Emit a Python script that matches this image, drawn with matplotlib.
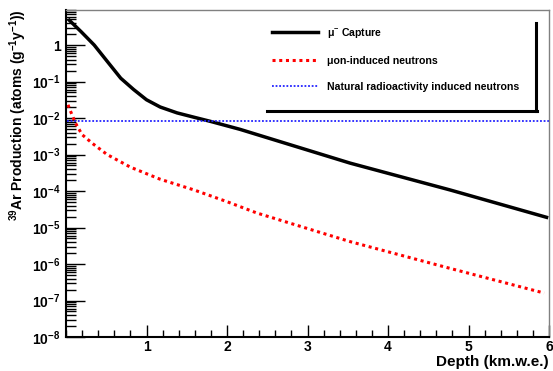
"""
39Ar production vs depth: mu- capture, muon-induced neutrons and the
natural radioactivity neutron level.
"""
import math
import matplotlib
matplotlib.use("Agg")
import matplotlib.pyplot as plt
from matplotlib.lines import Line2D
from matplotlib.ticker import FixedLocator, FuncFormatter, NullFormatter

plt.rcParams['font.family'] = ['Liberation Sans', 'DejaVu Sans']
plt.rcParams['font.weight'] = 'bold'
plt.rcParams['mathtext.fontset'] = 'custom'
plt.rcParams['mathtext.rm'] = 'Liberation Sans:bold'
plt.rcParams['mathtext.it'] = 'Liberation Sans:bold'
plt.rcParams['mathtext.bf'] = 'Liberation Sans:bold'

# values
capture_depth = [0.042, 0.19, 0.35, 0.52, 0.68, 0.84, 1.0, 1.17, 1.38, 1.59, 1.79, 2.16,
                 3.53, 4.77, 5.97]
capture_rate = [4.75, 2.29, 1.0, 0.339, 0.123, 0.0603, 0.0316, 0.0200, 0.0138, 0.0105, 0.00813,
                0.0049, 5.8e-4, 1.07e-4, 1.9e-5]

muon_n_depth = [0.025, 0.058, 0.12, 0.2, 0.33, 0.51, 0.80, 1.17, 1.59, 2.0, 2.37, 3.53, 4.77, 5.94]
muon_n_rate = [0.023, 0.015, 0.0071, 0.0035, 0.002, 1.0e-3, 4.5e-4, 2.1e-4, 1.07e-4, 5.1e-5, 2.5e-5,
               4.1e-6, 7.6e-7, 1.6e-7]

natural_depth = [0.01, 6.0]
natural_rate = [8.3e-3, 8.3e-3]

labels = ['μ$^{-}$ Capture', 'μon-induced neutrons', 'Natural radioactivity induced neutrons']

y_major = [10.0 ** e for e in range(-8, 1)]
y_minor = [m * 10.0 ** e for e in range(-9, 1) for m in range(2, 10)]
x_major = [1, 2, 3, 4, 5, 6]
x_minor = [i * 0.2 for i in range(31)]

W, H = 553, 371
fig = plt.figure(figsize=(W / 100, H / 100), dpi=100)
ax = fig.add_axes([66 / W, 1 - 337 / H, 483 / W, 327 / H])

ax.plot(capture_depth, capture_rate, color='black', lw=2.5, label=labels[0])
ax.plot(muon_n_depth, muon_n_rate, color='#ff0000', lw=2.2, linestyle=(0, (1, 1.2)), label=labels[1])
ax.plot(natural_depth, natural_rate, color='#2222ff', lw=1.3, linestyle=(0, (1, 1)), label=labels[2])

ax.set_yscale('log')
ax.set_xlim(0.0, 6.0)
ax.set_ylim(1e-8, 9.1)

ax.xaxis.set_major_locator(FixedLocator(x_major))
ax.xaxis.set_minor_locator(FixedLocator(x_minor))
ax.yaxis.set_major_locator(FixedLocator(y_major))
ax.yaxis.set_minor_locator(FixedLocator(y_minor))
ax.yaxis.set_minor_formatter(NullFormatter())


def ylab(v, pos):
    e = int(round(math.log10(v)))
    if e == 0:
        return '1'
    return r'$10^{%d}$' % e


ax.yaxis.set_major_formatter(FuncFormatter(ylab))
ax.xaxis.set_major_formatter(FuncFormatter(lambda v, p: '%d' % v))

ax.tick_params(axis='y', which='major', direction='in', length=14, width=1, labelsize=10, pad=4)
ax.tick_params(axis='y', which='minor', direction='in', length=7, width=1)
ax.tick_params(axis='x', which='major', direction='in', length=9, width=1, labelsize=10, pad=2)
ax.tick_params(axis='x', which='minor', direction='in', length=5, width=1)

for s in ('left', 'bottom'):
    ax.spines[s].set_linewidth(1.5)
for s in ('top', 'right'):
    ax.spines[s].set_linewidth(1.0)
    ax.spines[s].set_color('#808080')

fig.text(18 / W, 1 - 9 / H, r'$^{39}$Ar Production (atoms (g$^{-1}$y$^{-1}$))',
         rotation=90, ha='center', va='top', fontsize=10, fontweight='bold')
fig.text(549 / W, 1 - 362 / H, 'Depth (km.w.e.)', ha='right', va='center', fontsize=11,
         fontweight='bold')

leg = ax.legend(loc='upper left', bbox_to_anchor=(272 / W, 1 - 26 / H),
                bbox_transform=fig.transFigure, frameon=False, fontsize=7.6,
                handlelength=4.4, handletextpad=0.85, labelspacing=1.5,
                borderpad=0, borderaxespad=0)

# legend shadow edges
fig.add_artist(Line2D([536 / W, 536 / W], [1 - 23 / H, 1 - 111 / H], color='black', lw=2.2,
                      transform=fig.transFigure))
fig.add_artist(Line2D([267 / W, 537 / W], [1 - 111 / H, 1 - 111 / H], color='black', lw=2.2,
                      transform=fig.transFigure))

fig.savefig('out.png', dpi=100)
